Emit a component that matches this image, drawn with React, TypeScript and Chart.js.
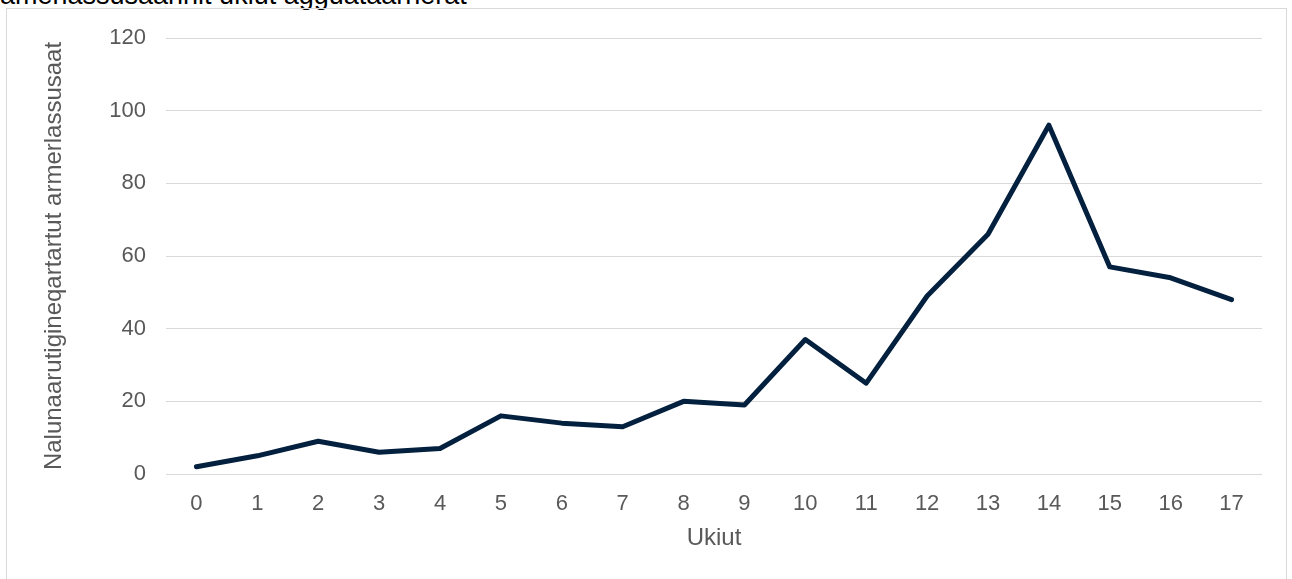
import React, { useEffect, useRef } from "react";
import { Chart, registerables } from "chart.js";

Chart.register(...registerables);

const chartTitle = "amerlassusaannit ukiut agguataarnerat";
const xAxisTitle = "Ukiut";
const yAxisTitle = "Nalunaarutigineqartartut armerlassusaat";
const years = ["0", "1", "2", "3", "4", "5", "6", "7", "8", "9", "10", "11", "12", "13", "14", "15", "16", "17"];
const counts = [2, 5, 9, 6, 7, 16, 14, 13, 20, 19, 37, 25, 49, 66, 96, 57, 54, 48];
const yMin = 0;
const yMax = 120;
const yStep = 20;

const FONT = "'Liberation Sans', Arial, sans-serif";
const TEXT = "#595959";

export default function App() {
  const ref = useRef<HTMLCanvasElement | null>(null);

  useEffect(() => {
    if (!ref.current) return;
    const chart = new Chart(ref.current, {
      type: "line",
      data: {
        labels: years,
        datasets: [
          {
            data: counts,
            borderColor: "#03203f",
            borderWidth: 5,
            borderCapStyle: "round",
            borderJoinStyle: "round",
            pointRadius: 0,
            tension: 0,
            fill: false,
          },
        ],
      },
      options: {
        animation: false,
        responsive: false,
        devicePixelRatio: 1,
        layout: { padding: { left: 0, right: 30, top: 38, bottom: 0 } },
        plugins: { legend: { display: false }, tooltip: { enabled: false }, title: { display: false } },
        scales: {
          x: {
            offset: true,
            grid: { display: false, drawTicks: false },
            border: { display: false },
            ticks: { color: TEXT, font: { family: FONT, size: 22 }, padding: 17, maxRotation: 0, autoSkip: false },
            title: { display: true, text: xAxisTitle, color: TEXT, font: { family: FONT, size: 24 }, padding: { top: 0, bottom: 26 } },
            afterFit: (s: any) => { s.height = 105; },
          },
          y: {
            min: yMin,
            max: yMax,
            grid: { color: "#d9d9d9", lineWidth: 1, drawTicks: false },
            border: { display: false },
            ticks: { stepSize: yStep, color: TEXT, font: { family: FONT, size: 22 }, padding: 20 },
            title: { display: true, text: yAxisTitle, color: TEXT, font: { family: FONT, size: 24 }, padding: { top: 40, bottom: 0 } },
            afterFit: (s: any) => { s.width = 166; },
          },
        },
      },
    });
    return () => chart.destroy();
  }, []);

  return (
    <div style={{ position: "fixed", left: 0, top: 0, width: 1292, height: 579, overflow: "hidden", background: "#fff" }}>
      <div
        style={{
          position: "absolute",
          left: 0,
          top: -18,
          fontFamily: FONT,
          fontSize: 27,
          lineHeight: 1,
          color: "#000",
          whiteSpace: "nowrap",
        }}
      >
        {chartTitle}
      </div>
      <div
        style={{
          position: "absolute",
          left: 6,
          top: 8,
          width: 1281,
          height: 600,
          border: "1px solid #d9d9d9",
          boxSizing: "border-box",
        }}
      />
      <canvas ref={ref} width={1292} height={579} style={{ position: "absolute", left: 0, top: 0 }} />
    </div>
  );
}
